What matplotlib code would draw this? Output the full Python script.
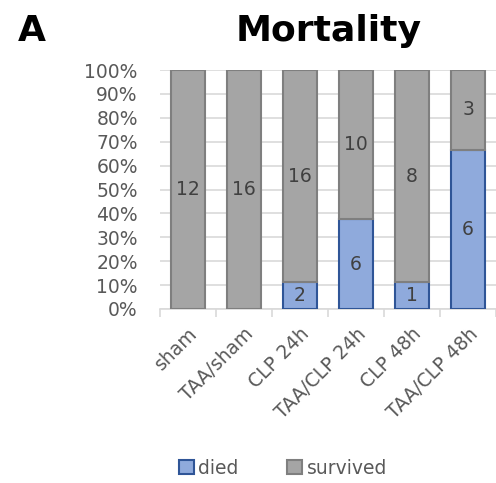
import numpy as np
import matplotlib
matplotlib.use("Agg")
import matplotlib.pyplot as plt
from matplotlib.patches import Patch

groups   = ["sham", "TAA/sham", "CLP 24h", "TAA/CLP 24h", "CLP 48h", "TAA/CLP 48h"]
died     = [0, 0, 2, 6, 1, 6]
survived = [12, 16, 16, 10, 8, 3]

DIED_FC, DIED_EC = "#8FAADC", "#2F5597"
SURV_FC, SURV_EC = "#A5A5A5", "#7F7F7F"
GRID = "#D9D9D9"
TXT = "#404040"
TICK = "#595959"
FS = 13.5

d = np.array(died, float)
s = np.array(survived, float)
tot = d + s
pd_ = d / tot * 100
ps_ = s / tot * 100
x = np.arange(len(groups))

fig = plt.figure(figsize=(4.96, 4.83), dpi=100)
ax = fig.add_axes([160/496, 1-309/483, 336/496, (309-70)/483])

ax.bar(x, pd_, 0.59, color=DIED_FC, edgecolor=DIED_EC, lw=1.5, zorder=3)
ax.bar(x, ps_, 0.59, bottom=pd_, color=SURV_FC, edgecolor=SURV_EC, lw=1.5, zorder=3)

for i in range(len(groups)):
    if died[i] > 0:
        ax.text(x[i], pd_[i]/2, str(died[i]), ha="center", va="center",
                fontsize=FS, color=TXT, zorder=4)
    if survived[i] > 0:
        ax.text(x[i], pd_[i] + ps_[i]/2, str(survived[i]), ha="center",
                va="center", fontsize=FS, color=TXT, zorder=4)

ax.set_xlim(-0.5, len(groups) - 0.5)
ax.set_ylim(0, 100)
ax.set_yticks(np.arange(0, 101, 10))
ax.set_yticklabels([f"{v}%" for v in range(0, 101, 10)])
ax.tick_params(axis="y", length=0, pad=16, labelsize=FS, labelcolor=TICK)
ax.yaxis.grid(True, color=GRID, lw=1.2, zorder=0)
ax.set_axisbelow(True)

ax.set_xticks(x)
ax.set_xticklabels(groups, rotation=45, ha="right", rotation_mode="anchor")
ax.tick_params(axis="x", which="major", length=0, pad=11, labelsize=FS,
               labelcolor=TICK)
ax.set_xticks(np.arange(-0.5, len(groups)), minor=True)
ax.tick_params(axis="x", which="minor", length=6, width=1.2, color=GRID)

for sp in ["top", "right", "left"]:
    ax.spines[sp].set_visible(False)
ax.spines["bottom"].set_color(GRID)
ax.spines["bottom"].set_linewidth(1.2)

fig.text(329/496, 1-41/483, "Mortality", ha="center", va="baseline",
         fontsize=26, fontweight="bold")
fig.text(18/496, 1-41/483, "A", ha="left", va="baseline",
         fontsize=26, fontweight="bold")

handles = [Patch(facecolor=DIED_FC, edgecolor=DIED_EC, lw=1.5, label="died"),
           Patch(facecolor=SURV_FC, edgecolor=SURV_EC, lw=1.5, label="survived")]
leg = fig.legend(handles=handles, loc="center", ncol=2, frameon=False,
                 bbox_to_anchor=(283/496, 1-468/483), fontsize=FS,
                 handlelength=0.8, handleheight=0.8, handletextpad=0.25,
                 columnspacing=2.6)
for t in leg.get_texts():
    t.set_color(TICK)

fig.savefig("out.png", dpi=100)
